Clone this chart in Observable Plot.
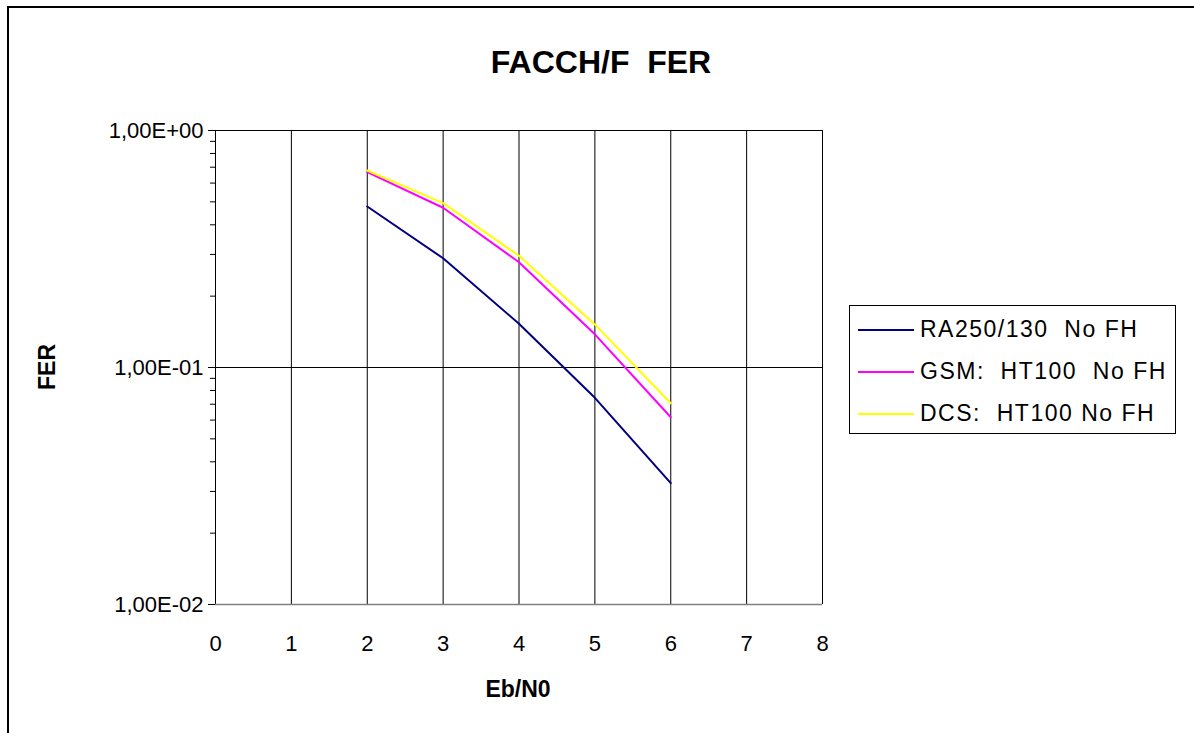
<!DOCTYPE html>
<html>
<head>
<meta charset="utf-8">
<script src="https://cdn.jsdelivr.net/npm/d3@7"></script>
<script src="https://cdn.jsdelivr.net/npm/@observablehq/plot@0.6"></script>
<style>
  html, body { margin: 0; padding: 0; background: #fff; }
  #wrap { position: relative; width: 1194px; height: 733px; overflow: hidden; font-family: "Liberation Sans", Arial, sans-serif; }
  #frame { position: absolute; left: 7px; top: 6px; width: 1300px; height: 900px; border: 2px solid #000; box-sizing: border-box; }
  #chart { position: absolute; left: 0; top: 0; }
  .lbl { position: absolute; white-space: pre; color: #000; }
  #title { left: 0; width: 1202px; top: 45px; text-align: center; font-weight: bold; font-size: 32px; line-height: 34px; }
  #xlabel { left: 418px; width: 200px; top: 676px; text-align: center; font-weight: bold; font-size: 23px; line-height: 26px; }
  #ylabel { left: 47px; top: 367px; font-weight: bold; font-size: 23px; line-height: 26px; transform: translate(-50%, -50%) rotate(-90deg); }
  #legend { position: absolute; left: 849px; top: 305px; width: 327px; height: 129px; border: 1px solid #000; box-sizing: border-box; background: #fff; }
  .item { position: absolute; left: 8px; height: 26px; font-size: 23px; line-height: 26px; white-space: pre; letter-spacing: 1.5px; }
  .swatch { display: inline-block; width: 56px; height: 0; border-top: 2px solid; vertical-align: middle; margin-right: 6px; position: relative; top: -1px; }
</style>
</head>
<body>
<div id="wrap">
  <div id="chart"></div>
  <div id="frame"></div>
  <div id="title" class="lbl">FACCH/F  FER</div>
  <div id="xlabel" class="lbl">Eb/N0</div>
  <div id="ylabel" class="lbl">FER</div>
  <div id="legend"></div>
</div>
<script>
// ---- data ----
const ebn0 = [2, 3, 4, 5, 6];
const raFer  = [0.478, 0.289, 0.153, 0.0745, 0.0325];
const gsmFer = [0.667, 0.472, 0.278, 0.138, 0.0617];
const dcsFer = [0.678, 0.494, 0.296, 0.152, 0.0707];
const seriesNames = ["RA250/130  No FH", "GSM:  HT100  No FH", "DCS:  HT100 No FH"];
const seriesColors = ["#000080", "#FF00FF", "#FFFF00"];
const xTicks = [0, 1, 2, 3, 4, 5, 6, 7, 8];
const yTicks = [1, 0.1, 0.01];
const yTickLabels = ["1,00E+00", "1,00E-01", "1,00E-02"];
const yMinorTicks = [0.9,0.8,0.7,0.6,0.5,0.4,0.3,0.2,0.09,0.08,0.07,0.06,0.05,0.04,0.03,0.02];

// ---- build table ----
const seriesValues = [raFer, gsmFer, dcsFer];
const rows = [];
seriesNames.forEach((name, s) => {
  ebn0.forEach((x, i) => rows.push({series: name, x, y: seriesValues[s][i]}));
});
const yLabelMap = new Map(yTicks.map((t, i) => [t, yTickLabels[i]]));

const chart = Plot.plot({
  width: 1194,
  height: 733,
  marginLeft: 215,
  marginRight: 372,
  marginTop: 130,
  marginBottom: 129,
  style: { fontFamily: "'Liberation Sans', Arial, sans-serif", fontSize: "22px", color: "#000", background: "transparent" },
  x: { domain: [0, 8] },
  y: { type: "log", domain: [0.01, 1] },
  color: { domain: seriesNames, range: seriesColors },
  marks: [
    Plot.ruleX(xTicks, { stroke: "#000", strokeWidth: 1 }),
    Plot.ruleY([1, 0.1], { stroke: "#000", strokeWidth: 1 }),
    Plot.ruleY([0.01], { stroke: "#808080", strokeWidth: 1.5 }),
    Plot.axisY({ ticks: yMinorTicks, tickSize: 5, tickFormat: () => "", label: null, stroke: "#000" }),
    Plot.axisY({ ticks: yTicks, tickSize: 7, tickPadding: 5, tickFormat: d => yLabelMap.get(d), label: null, stroke: "#000", fill: "#000", fontSize: 22 }),
    Plot.axisX({ ticks: xTicks, tickSize: 0, tickPadding: 31, tickFormat: d => String(d), label: null, fill: "#000", fontSize: 22 }),
    Plot.line(rows, { x: "x", y: "y", z: "series", stroke: "series", strokeWidth: 2, strokeLinejoin: "miter" })
  ]
});
document.getElementById("chart").appendChild(chart);

// ---- legend ----
const legend = document.getElementById("legend");
seriesNames.forEach((name, i) => {
  const d = document.createElement("div");
  d.className = "item";
  d.style.top = (10 + i * 42) + "px";
  const sw = document.createElement("span");
  sw.className = "swatch";
  sw.style.borderTopColor = seriesColors[i];
  d.appendChild(sw);
  d.appendChild(document.createTextNode(name));
  legend.appendChild(d);
});
</script>
</body>
</html>
